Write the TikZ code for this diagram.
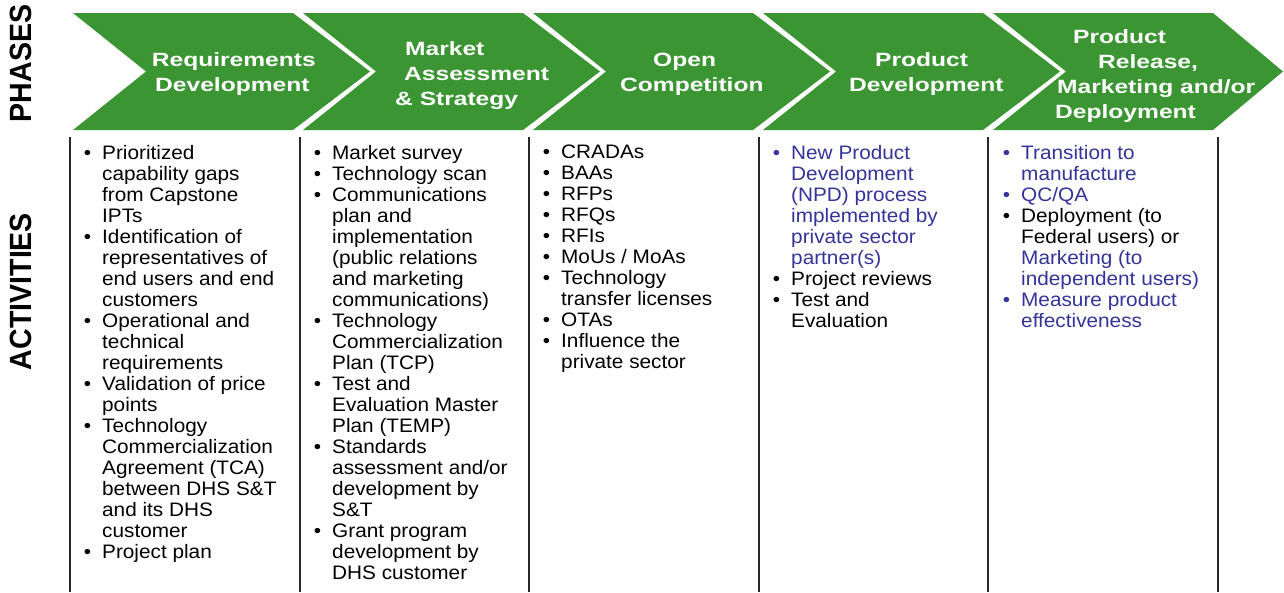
\documentclass[tikz,border=0pt]{standalone}
\usepackage{fontspec}
\setmainfont{Liberation Sans}[FakeStretch=1.065]
\newfontfamily\chevfont{Liberation Sans}[FakeStretch=1.28]
\newfontfamily\sidefont{Liberation Sans}[FakeStretch=0.93]
\definecolor{chevgreen}{RGB}{59,149,51}
\definecolor{actblue}{RGB}{51,51,153}
\definecolor{sepgray}{RGB}{40,40,40}
\newcommand{\bul}{\leavevmode\llap{\textbullet\hspace{11pt}}}
\newcommand{\bl}[1]{\textcolor{actblue}{#1}}
\tikzset{
  chevron/.style={fill=chevgreen, draw=none},
  chevtext/.style={font=\chevfont\bfseries\fontsize{19.2}{25}\selectfont, text=white, align=left, inner sep=0pt, anchor=north west},
  body/.style={font=\fontsize{19.5}{21}\selectfont, text=black, align=left, inner sep=0pt, anchor=north west},
  sidelab/.style={rotate=90, font=\sidefont\bfseries\fontsize{30.7}{32}\selectfont, inner sep=0pt},
  colsep/.style={draw=sepgray, line width=1.2pt}
}
\begin{document}
\begin{tikzpicture}[x=1pt,y=-1pt]
\useasboundingbox (0,0) rectangle (1284,592);
% chevrons
\foreach \i in {0,1,2,3}{
  \pgfmathsetmacro{\L}{73+230*\i}
  \fill[chevron] (\L,13) -- (\L+220,13) -- (\L+297,71.5) -- (\L+220,130) -- (\L,130) -- (\L+73,71.5) -- cycle;
}
\fill[chevron] (993,13) -- (1213,13) -- (1283,71.5) -- (1213,130) -- (993,130) -- (1066,71.5) -- cycle;
% chevron labels
\node[chevtext] (p1) at (151.7,52.8) {Requirements\\\hspace*{3.3pt}Development};
\node[chevtext] (p2) at (395,41.2) {\hspace*{10pt}Market\\\hspace*{9pt}Assessment\\\& Strategy};
\node[chevtext] (p3) at (620,52.8) {\hspace*{33pt}Open\\Competition};
\node[chevtext] (p4) at (849,52.8) {\hspace*{26pt}Product\\Development};
\node[chevtext] (p5) at (1055,28.9) {\hspace*{18pt}Product\\\hspace*{43pt}Release,\\\hspace*{2pt}Marketing and/or\\Deployment};
% side labels
\node[sidelab] (phases) at (21,63.5) {PHASES};
\node[sidelab] (activities) at (21,291.5) {ACTIVITIES};
% column separators
\foreach \x in {70,300,529,759,988,1218}{
  \draw[colsep] (\x,137) -- (\x,592);
}
% activities
\node[body] (a1) at (102,145) {\bul Prioritized\\
capability gaps\\
from Capstone\\
IPTs\\
\bul Identification of\\
representatives of\\
end users and end\\
customers\\
\bul Operational and\\
technical\\
requirements\\
\bul Validation of price\\
points\\
\bul Technology\\
Commercialization\\
Agreement (TCA)\\
between DHS S\&T\\
and its DHS\\
customer\\
\bul Project plan};
\node[body] (a2) at (332,145) {\bul Market survey\\
\bul Technology scan\\
\bul Communications\\
plan and\\
implementation\\
(public relations\\
and marketing\\
communications)\\
\bul Technology\\
Commercialization\\
Plan (TCP)\\
\bul Test and\\
Evaluation Master\\
Plan (TEMP)\\
\bul Standards\\
assessment and/or\\
development by\\
S\&T\\
\bul Grant program\\
development by\\
DHS customer};
\node[body] (a3) at (561,145) {\bul CRADAs\\
\bul BAAs\\
\bul RFPs\\
\bul RFQs\\
\bul RFIs\\
\bul MoUs / MoAs\\
\bul Technology\\
transfer licenses\\
\bul OTAs\\
\bul Influence the\\
private sector};
\node[body] (a4) at (791,145) {\bl{\bul New Product}\\
\bl{Development}\\
\bl{(NPD) process}\\
\bl{implemented by}\\
\bl{private sector}\\
\bl{partner(s)}\\
\bul Project reviews\\
\bul Test and\\
Evaluation};
\node[body] (a5) at (1021,145) {\bl{\bul Transition to}\\
\bl{manufacture}\\
\bl{\bul QC/QA}\\
\bul Deployment (to\\
Federal users) or\\
\bl{Marketing (to}\\
\bl{independent users)}\\
\bl{\bul Measure product}\\
\bl{effectiveness}};
\end{tikzpicture}
\end{document}
